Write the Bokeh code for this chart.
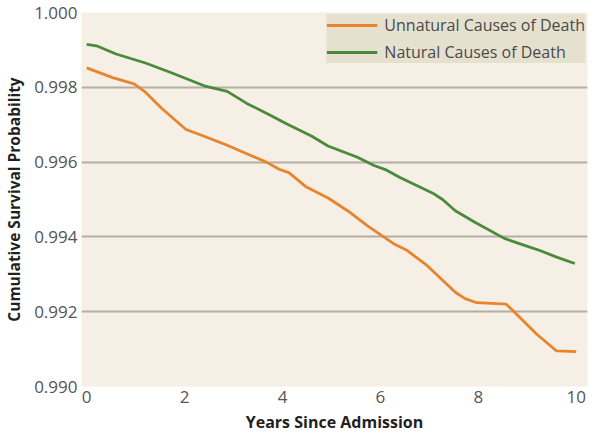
from bokeh.plotting import figure
from bokeh.models import ColumnDataSource, Range1d, FixedTicker, Legend, LegendItem
from bokeh.embed import file_html
from bokeh.resources import INLINE

# Data
natural_years = [0.0, 0.2, 0.6, 1.2, 1.73, 2.4, 2.87, 3.27, 3.8, 4.07, 4.6, 4.93, 5.53, 5.87,
                 6.1, 6.4, 7.07, 7.27, 7.53, 7.93, 8.53, 8.93, 9.27, 9.6, 9.97]
natural_surv = [0.99915, 0.99911, 0.99889, 0.99865, 0.99839, 0.99804, 0.99789, 0.99757, 0.99722,
                0.99703, 0.99669, 0.99643, 0.99613, 0.99591, 0.99580, 0.99559, 0.99517, 0.99500,
                0.99470, 0.99439, 0.99396, 0.99378, 0.99363, 0.99346, 0.99329]
unnatural_years = [0.0, 0.53, 0.97, 1.2, 1.53, 2.03, 2.4, 2.87, 3.67, 3.93, 4.13, 4.47, 4.93,
                   5.33, 5.73, 6.27, 6.53, 6.93, 7.53, 7.73, 7.97, 8.57, 8.73, 9.2, 9.6, 10.0]
unnatural_surv = [0.99852, 0.99826, 0.99809, 0.99787, 0.99744, 0.99687, 0.99669, 0.99645, 0.99600,
                  0.99581, 0.99572, 0.99535, 0.99504, 0.99470, 0.99430, 0.99382, 0.99365, 0.99326,
                  0.99252, 0.99235, 0.99224, 0.99220, 0.99200, 0.99139, 0.99095, 0.99093]
x_ticks = [0, 2, 4, 6, 8, 10]
y_ticks = [0.990, 0.992, 0.994, 0.996, 0.998, 1.000]
series_names = ["Unnatural Causes of Death", "Natural Causes of Death"]
x_title = "Years Since Admission"
y_title = "Cumulative Survival Probability"

ORANGE = "#E8842C"
GREEN = "#4B8A3B"
FONT = "Open Sans"

p = figure(width=590, height=435, output_backend="svg", toolbar_location=None,
           x_range=Range1d(-0.106, 10.23), y_range=Range1d(0.990, 1.000),
           min_border_top=12, min_border_right=3, min_border_left=70, min_border_bottom=0)

p.background_fill_color = "#F5EFE5"
p.border_fill_color = "white"
p.outline_line_color = None

src_u = ColumnDataSource(dict(x=unnatural_years, y=unnatural_surv))
src_n = ColumnDataSource(dict(x=natural_years, y=natural_surv))
r_u = p.line("x", "y", source=src_u, line_color=ORANGE, line_width=2.8)
r_n = p.line("x", "y", source=src_n, line_color=GREEN, line_width=2.8)

# axes
p.xaxis.ticker = FixedTicker(ticks=x_ticks)
p.yaxis.ticker = FixedTicker(ticks=y_ticks)
p.yaxis.major_label_overrides = {t: f"{t:.3f}" for t in y_ticks}
for ax in (p.xaxis, p.yaxis):
    ax.axis_line_color = None
    ax.major_tick_line_color = None
    ax.minor_tick_line_color = None
    ax.major_tick_out = 0
    ax.major_tick_in = 0
    ax.major_label_text_font = FONT
    ax.major_label_text_color = "#555555"
    ax.major_label_text_font_size = "17px"
    ax.axis_label_text_font = FONT
    ax.axis_label_text_font_style = "bold"
    ax.axis_label_text_color = "#231F20"
p.xaxis.axis_label_text_font_size = "16px"
p.yaxis.axis_label_text_font_size = "15.5px"
p.xaxis.axis_label = x_title
p.yaxis.axis_label = y_title
p.xaxis.major_label_standoff = 4
p.yaxis.major_label_standoff = 4
p.xaxis.axis_label_standoff = 5
p.yaxis.axis_label_standoff = 6

p.xgrid.grid_line_color = None
p.ygrid.grid_line_color = "#B3AEA6"
p.ygrid.grid_line_width = 1.8

legend = Legend(items=[LegendItem(label=series_names[0], renderers=[r_u]),
                       LegendItem(label=series_names[1], renderers=[r_n])],
                location="top_right")
legend.background_fill_color = "#E6E0CF"
legend.background_fill_alpha = 1.0
legend.border_line_color = None
legend.label_text_font = FONT
legend.label_text_font_size = "16px"
legend.label_text_color = "#4A4A4A"
legend.glyph_width = 51
legend.glyph_height = 20
legend.label_height = 20
legend.spacing = 5
legend.padding = 7
legend.margin = 2
legend.label_standoff = 7
p.add_layout(legend)

open("out.html", "w").write(file_html(p, INLINE))
